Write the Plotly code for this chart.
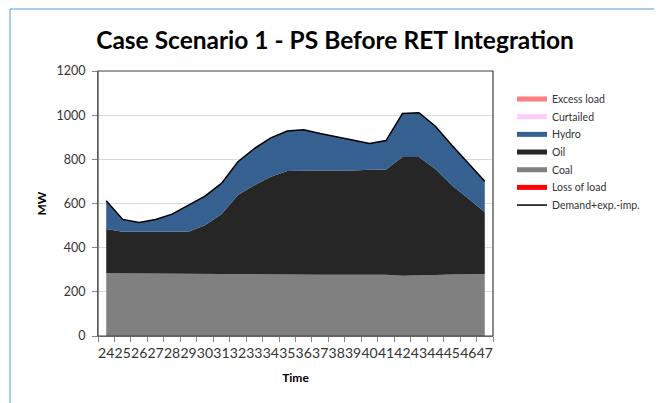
import plotly.graph_objects as go

hours = [str(h) for h in range(24, 48)]
coal = [284, 284, 284, 284, 284, 284, 282, 281, 280, 279, 277, 277, 277, 277, 277, 277, 277, 277, 273, 273, 276, 278, 279, 281]
oil_top = [484, 472, 472, 472, 472, 472, 502, 551, 638, 683, 721, 747, 748, 748, 748, 750, 753, 754, 811, 811, 756, 683, 623, 560]
demand = [612, 528, 514, 528, 552, 593, 633, 691, 789, 849, 897, 928, 934, 917, 902, 884, 872, 885, 1008, 1011, 950, 864, 781, 701]
oil = [t - c for t, c in zip(oil_top, coal)]
hydro = [d - t for d, t in zip(demand, oil_top)]
zeros = [0] * len(hours)

legend_labels = ["Excess load", "Curtailed", "Hydro", "Oil", "Coal", "Loss of load", "Demand+exp.-imp."]
legend_colors = ["#FF7C80", "#FFCCFF", "#35608F", "#262626", "#808080", "#FF0000", "#000000"]

FONT = "Lato"
fig = go.Figure()

def area(name, vals, color):
    fig.add_trace(go.Scatter(
        x=hours, y=vals, name=name, stackgroup="one", mode="lines",
        line=dict(width=0, color=color), fillcolor=color, showlegend=False))

area("Coal", coal, "#808080")
area("Oil", oil, "#262626")
area("Hydro", hydro, "#35608F")
area("Excess load", zeros, "#FF7C80")
area("Curtailed", zeros, "#FFCCFF")
area("Loss of load", zeros, "#FF0000")
fig.add_trace(go.Scatter(x=hours, y=demand, name="Demand+exp.-imp.", mode="lines",
                         line=dict(color="black", width=1.5), showlegend=False))

# custom legend (paper coordinates)
shapes = [
    dict(type="rect", xref="paper", yref="paper", x0=0, x1=1, y0=0, y1=1,
         line=dict(color="#404040", width=1.2), fillcolor="rgba(0,0,0,0)", layer="above"),
    dict(type="rect", xref="paper", yref="paper", x0=-0.2228, x1=1.410, y0=-0.30, y1=1.234,
         line=dict(color="#5B9BD5", width=1), fillcolor="rgba(0,0,0,0)"),
]
annotations = []
leg_y0, leg_step = 0.8943, 0.0667
for i, (lab, col) in enumerate(zip(legend_labels, legend_colors)):
    yy = leg_y0 - i * leg_step
    w = 1.5 if i == len(legend_labels) - 1 else 5
    shapes.append(dict(type="line", xref="paper", yref="paper", x0=1.0608, x1=1.1367,
                       y0=yy, y1=yy, line=dict(color=col, width=w)))
    annotations.append(dict(text=lab, xref="paper", yref="paper", x=1.1443, y=yy,
                            xanchor="left", yanchor="middle", showarrow=False,
                            font=dict(family=FONT, size=10.5, color="#333")))

fig.update_layout(
    width=654, height=395,
    margin=dict(l=90, r=169, t=63, b=67),
    paper_bgcolor="white", plot_bgcolor="white",
    font=dict(family=FONT, size=12, color="#222"),
    title=dict(text="<b>Case Scenario 1 - PS Before RET Integration</b>",
               x=0.5, xanchor="center", y=0.919, yanchor="middle",
               font=dict(family=FONT, size=24.5, color="black")),
    showlegend=False,
    xaxis=dict(type="category", range=[-0.5, len(hours) - 0.5],
               tickmode="linear", tick0=0, dtick=1,
               title=dict(text="<b>Time</b>", font=dict(size=12, color="black"), standoff=13),
               tickson="boundaries", ticks="outside", ticklen=5, tickcolor="#888", ticklabelstandoff=4,
               showline=True, linecolor="#888", mirror=False, showgrid=False,
               tickfont=dict(size=14, color="#333"), tickangle=0),
    yaxis=dict(range=[0, 1200], dtick=200, title=dict(text="<b>MW</b>", font=dict(size=12, color="black"), standoff=7),
               ticks="outside", ticklen=5, tickcolor="#888", ticklabelstandoff=4,
               showline=True, linecolor="#888", showgrid=True, gridcolor="#d9d9d9",
               tickfont=dict(size=12.5, color="#333"), zeroline=False),
    shapes=shapes,
    annotations=annotations,
)

fig.write_html("out.html")
